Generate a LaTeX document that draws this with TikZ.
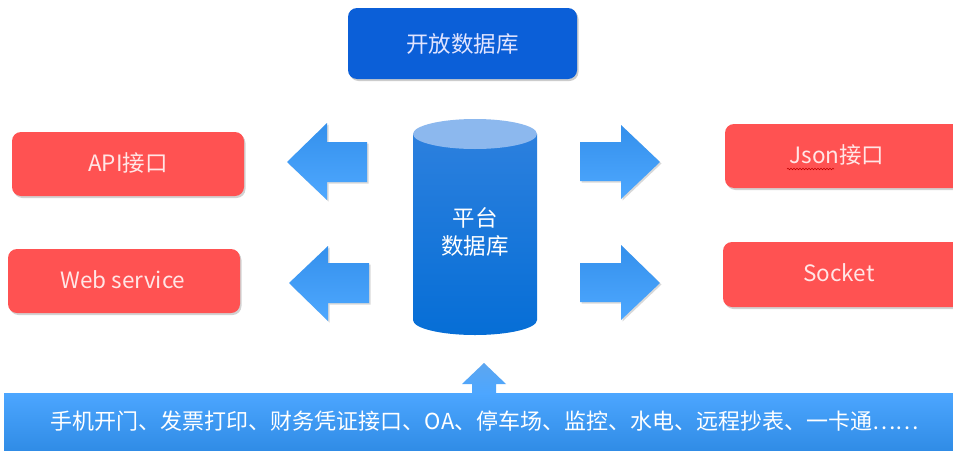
\documentclass[tikz,border=0pt]{standalone}
\usepackage{fontspec}
\setmainfont{Noto Sans CJK SC}
\usetikzlibrary{shadows,decorations.pathmorphing}
\definecolor{redbox}{RGB}{255,82,82}
\definecolor{redtext}{RGB}{255,230,230}
\definecolor{topblue}{RGB}{11,95,216}
\definecolor{toptext}{RGB}{225,228,255}
\definecolor{arrA}{RGB}{52,144,236}
\definecolor{arrB}{RGB}{78,168,255}
\definecolor{cylA}{RGB}{44,128,222}
\definecolor{cylB}{RGB}{6,110,214}
\definecolor{cylTop}{RGB}{140,184,238}
\definecolor{bandA}{RGB}{76,166,255}
\definecolor{bandB}{RGB}{46,138,228}
\tikzset{
  redbox/.style={fill=redbox, rounded corners=9pt, drop shadow={shadow xshift=1.5pt, shadow yshift=-2pt, opacity=0.35}},
  boxtext/.style={text=redtext, font=\fontsize{22.5}{26}\selectfont},
  blockarrow/.style={top color=arrA, bottom color=arrB, draw=none, drop shadow={shadow xshift=1.5pt, shadow yshift=-1.5pt, opacity=0.3}},
}
\begin{document}
\begin{tikzpicture}[x=1pt,y=-1pt]
\useasboundingbox (0,0) rectangle (953,450);
\fill[white] (0,0) rectangle (953,450);

% top box
\path[fill=topblue, rounded corners=9pt, drop shadow={shadow xshift=1.5pt, shadow yshift=-2pt, opacity=0.4}] (348,8) rectangle (577,79);
\node[text=toptext, font=\fontsize{22.5}{26}\selectfont] (open) at (462.5,44) {开放数据库};

% red boxes
\path[redbox] (12,132) rectangle (244,196);
\node[boxtext] (api) at (128,163) {API接口};
\path[redbox] (8,249) rectangle (240,313);
\node[boxtext] (web) at (123,280) {Web service};
\path[redbox] (725,124) rectangle (968,188);
\node[boxtext] (json) at (837,155) {Json接口};
\draw[red!75!black, line width=0.6pt, decorate, decoration={snake, amplitude=0.7pt, segment length=3pt}] (787,169) coordinate (ja) -- (834,169) coordinate (jb);
\path[redbox] (723,242) rectangle (968,307);
\node[boxtext] (socket) at (839,273) {Socket};

% cylinder
\shade[top color=cylA, bottom color=cylB] (413,134) -- (413,320) arc[start angle=180, end angle=0, x radius=62, y radius=15] -- (537,134) -- cycle;
\fill[cylTop] (475,134) ellipse[x radius=62, y radius=15];
\node[text=white, font=\fontsize{22.5}{28}\selectfont, align=center] (db) at (475,232) {平台\\数据库};

% left arrows
\path[blockarrow] (287,162) -- (327,123) -- (327,142) -- (367,142) -- (367,182) -- (327,182) -- (327,200) -- cycle;
\path[blockarrow] (289,283) -- (328,246) -- (328,263) -- (369,263) -- (369,303) -- (328,303) -- (328,321) -- cycle;
% right arrows
\path[blockarrow] (660,162) -- (621,125) -- (621,142) -- (580,142) -- (580,181) -- (621,181) -- (621,199) -- cycle;
\path[blockarrow] (660,283) -- (621,245) -- (621,263) -- (580,263) -- (580,302) -- (621,302) -- (621,320) -- cycle;

% bottom band
\shade[top color=bandA, bottom color=bandB] (4,393) rectangle (960,455);
\path[top color=arrA!80!white, bottom color=bandA] (484,363) -- (506,384) -- (496,384) -- (496,394) -- (472,394) -- (472,384) -- (462,384) -- cycle;
\node[text=white, font=\fontsize{22}{24}\selectfont] (band) at (485,421) {手机开门、发票打印、财务凭证接口、OA、停车场、监控、水电、远程抄表、一卡通……};
\end{tikzpicture}
\end{document}
